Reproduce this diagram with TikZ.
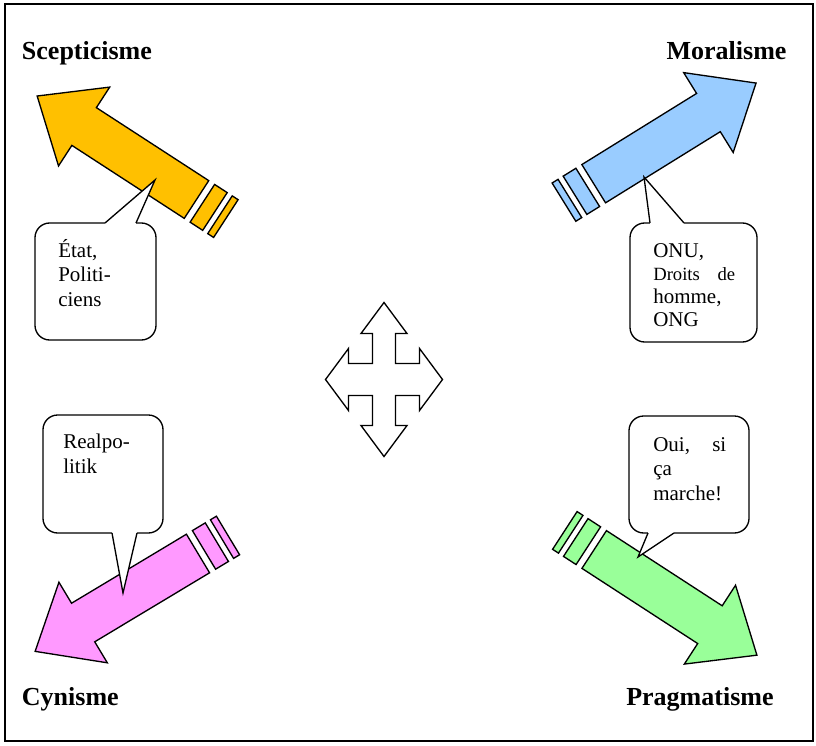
\documentclass[tikz,border=0pt]{standalone}
\usepackage{fontspec}
\setmainfont{Liberation Serif}
\definecolor{cScep}{HTML}{FFC000}
\definecolor{cMoral}{HTML}{99CCFF}
\definecolor{cCyn}{HTML}{FF99FF}
\definecolor{cPrag}{HTML}{99FF99}
\newcommand\stripedarrow[4]{%
\begin{scope}[shift={#1}, rotate=#2]
 \filldraw[arrowline, fill=#3] (0,-22.5) -- ({#4-56},-22.5) -- ({#4-56},-47) -- (#4,0) -- ({#4-56},47) -- ({#4-56},22.5) -- (0,22.5) -- cycle;
 \filldraw[arrowline, fill=#3] (-22,-22.5) rectangle (-7,22.5);
 \filldraw[arrowline, fill=#3] (-35,-22.5) rectangle (-28,22.5);
\end{scope}}
\begin{document}
\begin{tikzpicture}[x=0.75pt,y=-0.75pt, line join=miter,
 arrowline/.style={draw=black, line width=1pt},
 callout/.style={draw=black, line width=1pt, fill=white, rounded corners=11pt},
 pointer/.style={draw=black, line width=1pt},
 title/.style={font=\fontsize{19.5}{23}\selectfont\bfseries, inner sep=0},
 say/.style={font=\fontsize{15.75}{18.2}\selectfont, inner sep=0, align=left}]
\useasboundingbox (0,0) rectangle (816,745);
\draw[line width=1.5pt] (5,4) rectangle (813,741);

% titles
\node[title, anchor=base west] (tScep) at (21.7,60) {Scepticisme};
\node[title, anchor=base east] (tMoral) at (786.7,60) {Moralisme};
\node[title, anchor=base west] (tCyn) at (21.7,705) {Cynisme};
\node[title, anchor=base west] (tPrag) at (626,705) {Pragmatisme};

% striped arrows
\stripedarrow{(196.5,199.5)}{147}{cScep}{190}
\stripedarrow{(593.7,183.7)}{31.8}{cMoral}{191}
\stripedarrow{(198,553.5)}{211}{cCyn}{190}
\stripedarrow{(594.2,549.5)}{-33}{cPrag}{194}

% callouts
\draw[callout] (35,223) rectangle (156,340);
\fill[white] (105.5,226) -- (105,223) -- (155,180) -- (136,223) -- (135.5,226) -- cycle;
\draw[pointer] (105,223) -- (155,180) -- (136,223);
\node[say, anchor=base west] (sScep) at (58,306) {État,\\Politi-\\ciens};

\draw[callout] (630,223) rectangle (757,342);
\fill[white] (650.5,226) -- (650,223) -- (644,177) -- (684,223) -- (683.5,226) -- cycle;
\draw[pointer] (650,223) -- (644,177) -- (684,223);
\node[say, anchor=base west, font=\fontsize{15.75}{17.1}\selectfont] (sMoral) at (653,326) {ONU,\\{\fontsize{14}{17.1}\selectfont\makebox[61.5pt][s]{Droits\hfill de}}\\homme,\\ONG};

\draw[callout] (43,415) rectangle (163,533);
\fill[white] (112.5,530) -- (112,533) -- (123,593) -- (137,533) -- (136.5,530) -- cycle;
\draw[pointer] (112,533) -- (123,593) -- (137,533);
\node[say, anchor=base west] (sCyn) at (63,473) {Realpo-\\litik};

\draw[callout] (629,416) rectangle (749,533);
\fill[white] (648.5,530) -- (648,533) -- (638,557) -- (674,533) -- (673.5,530) -- cycle;
\draw[pointer] (648,533) -- (638,557) -- (674,533);
\node[say, anchor=base west] (sPrag) at (653,500) {\makebox[54.75pt][s]{Oui,\hfill si}\\ça\\marche!};

% four-way arrow
\begin{scope}[shift={(384,379.5)}]
\draw[arrowline, fill=white] (0,-77) -- (23,-46) -- (11.5,-46) -- (11.5,-16) -- (35.5,-16) -- (35.5,-31) -- (58.5,0) -- (35.5,31) -- (35.5,16) -- (11.5,16) -- (11.5,46) -- (23,46) -- (0,77) -- (-23,46) -- (-11.5,46) -- (-11.5,16) -- (-35.5,16) -- (-35.5,31) -- (-58.5,0) -- (-35.5,-31) -- (-35.5,-16) -- (-11.5,-16) -- (-11.5,-46) -- (-23,-46) -- cycle;
\end{scope}
\end{tikzpicture}
\end{document}
